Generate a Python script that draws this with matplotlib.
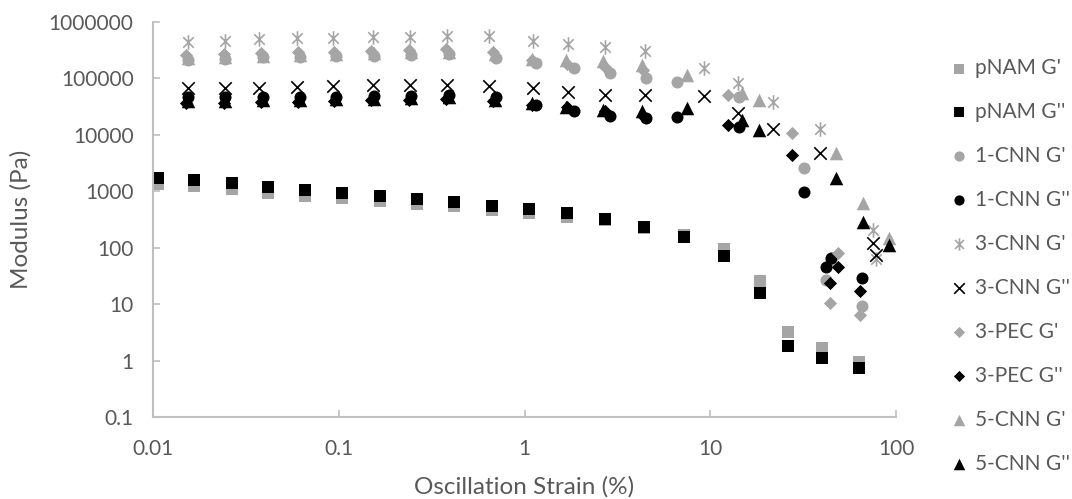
import matplotlib.pyplot as plt
from matplotlib.path import Path

# * Dados (strain %, modulus Pa)
x_pnam = [0.0106, 0.0166, 0.0266, 0.0416, 0.0658, 0.104, 0.167, 0.264, 0.417, 0.668,
          1.057, 1.69, 2.71, 4.40, 7.22, 11.9, 18.5, 26.2, 40.0, 63.2]
g1_pnam = [1360, 1250, 1110, 950, 840, 755, 668, 590, 541, 460,
           409, 348, 308, 225, 170, 94, 26, 3.2, 1.7, 0.95]
g2_pnam = [1714, 1580, 1398, 1186, 1050, 929, 822, 727, 644, 547,
           483, 411, 321, 232, 154, 71, 15.7, 1.8, 1.1, 0.73]

x_1cnn = [0.0155, 0.0245, 0.039, 0.062, 0.097, 0.155, 0.245, 0.39, 0.7, 1.15,
          1.85, 2.9, 4.5, 6.6, 14.3, 32, 42, 44.5, 65.6]
g1_1cnn = [215000, 225000, 235000, 240000, 245000, 250000, 255000, 270000, 230000, 190000,
           150000, 125000, 100000, 86000, 47000, 2580, 27, 60, 9.2]
g2_1cnn = [46000, 46000, 47000, 47000, 47000, 48000, 48000, 50000, 46000, 34000,
           27000, 22000, 20000, 20700, 13800, 969, 45, 65, 29]

x_3cnn = [0.0154, 0.0244, 0.0372, 0.0596, 0.093, 0.153, 0.242, 0.383, 0.644, 1.11,
          1.71, 2.71, 4.45, 9.25, 14.1, 21.8, 39, 75, 78]
g1_3cnn = [440000, 460000, 500000, 520000, 520000, 542000, 542000, 560000, 565000, 460000,
           407000, 360000, 306000, 153000, 82800, 38000, 12600, 204, 62]
g2_3cnn = [67600, 67600, 67600, 70000, 72000, 76000, 76000, 76000, 72000, 67000,
           57000, 51000, 51000, 49000, 24000, 12600, 4750, 120, 74]

x_3pec = [0.015, 0.024, 0.038, 0.06, 0.094, 0.15, 0.24, 0.38, 0.68, 1.1,
          1.7, 2.7, 4.35, 12.4, 27.6, 44, 48.7, 64]
g1_3pec = [260000, 270000, 280000, 290000, 300000, 310000, 320000, 330000, 290000, 210000,
           180000, 160000, 140000, 51000, 10800, 10.5, 80, 6.4]
g2_3pec = [36000, 37000, 38000, 39000, 40000, 41000, 42000, 43000, 40000, 34000,
           31000, 26000, 22000, 14900, 4350, 23.5, 45, 17]

x_5cnn = [0.0155, 0.0245, 0.039, 0.062, 0.097, 0.155, 0.245, 0.39, 0.69, 1.1,
          1.68, 2.65, 4.3, 7.5, 14.8, 18.3, 47.5, 66.4, 91.7]
g1_5cnn = [230000, 240000, 250000, 260000, 270000, 280000, 290000, 300000, 270000, 220000,
           210000, 200000, 170000, 115000, 55000, 41000, 4750, 617, 148]
g2_5cnn = [40000, 40000, 41000, 42000, 43000, 44000, 45000, 46000, 42000, 36000,
           31000, 28000, 27000, 29900, 18000, 12200, 1700, 284, 111]

x_ticks = [0.01, 0.1, 1, 10, 100]
x_ticklabels = ["0.01", "0.1", "1", "10", "100"]
y_ticks = [0.1, 1, 10, 100, 1000, 10000, 100000, 1000000]
y_ticklabels = ["0.1", "1", "10", "100", "1000", "10000", "100000", "1000000"]

cinza = "#a5a5a5"
texto = "#595959"
eixo = "#bfbfbf"

# marcador estrela do Excel (vertical + X)
estrela = Path(
    [(0, -1), (0, 1), (-0.72, -0.72), (0.72, 0.72), (-0.72, 0.72), (0.72, -0.72)],
    [Path.MOVETO, Path.LINETO, Path.MOVETO, Path.LINETO, Path.MOVETO, Path.LINETO],
)

plt.rcParams["font.family"] = ["Lato", "DejaVu Sans"]

fig = plt.figure(figsize=(10.72, 4.99), dpi=100)
ax = fig.add_axes([153 / 1072, 82 / 499, 743 / 1072, 395 / 499])

ax.scatter(x_pnam, g1_pnam, marker="s", s=80, color=cinza, linewidths=0, label="pNAM G'")
ax.scatter(x_pnam, g2_pnam, marker="s", s=80, color="black", linewidths=0, label="pNAM G''")
ax.scatter(x_1cnn, g1_1cnn, marker="o", s=75, color=cinza, linewidths=0, label="1-CNN G'")
ax.scatter(x_1cnn, g2_1cnn, marker="o", s=75, color="black", linewidths=0, label="1-CNN G''")
ax.scatter(x_3cnn, g1_3cnn, marker=estrela, s=110, color=cinza, linewidths=1.2, label="3-CNN G'")
ax.scatter(x_3cnn, g2_3cnn, marker="x", s=80, color="black", linewidths=1.2, label="3-CNN G''")
ax.scatter(x_3pec, g1_3pec, marker="D", s=45, color=cinza, linewidths=0, label="3-PEC G'")
ax.scatter(x_3pec, g2_3pec, marker="D", s=45, color="black", linewidths=0, label="3-PEC G''")
ax.scatter(x_5cnn, g1_5cnn, marker="^", s=95, color=cinza, linewidths=0, label="5-CNN G'")
ax.scatter(x_5cnn, g2_5cnn, marker="^", s=95, color="black", linewidths=0, label="5-CNN G''")

ax.set_xscale("log")
ax.set_yscale("log")
ax.set_xlim(0.01, 100)
ax.set_ylim(0.1, 1000000)
ax.set_xticks(x_ticks)
ax.set_xticklabels(x_ticklabels)
ax.set_yticks(y_ticks)
ax.set_yticklabels(y_ticklabels)
ax.minorticks_off()

for lado in ["top", "right"]:
    ax.spines[lado].set_visible(False)
for lado in ["left", "bottom"]:
    ax.spines[lado].set_color(eixo)
    ax.spines[lado].set_linewidth(1.5)

ax.tick_params(axis="both", direction="in", length=5, width=1.2, color=eixo,
               labelcolor=texto, labelsize=15)
ax.tick_params(axis="y", pad=14)
ax.tick_params(axis="x", pad=16)

ax.set_xlabel("Oscillation Strain (%)", fontsize=17.5, color=texto, labelpad=12)
ax.set_ylabel("Modulus (Pa)", fontsize=17.5, color=texto, labelpad=12)

ax.legend(
    loc="upper left",
    bbox_to_anchor=(950 / 1072, 1 - 58 / 499),
    bbox_transform=fig.transFigure,
    frameon=False,
    fontsize=15,
    labelcolor=texto,
    markerscale=0.85,
    handlelength=0.9,
    handletextpad=0.3,
    labelspacing=1.15,
    borderpad=0,
    borderaxespad=0,
)

fig.savefig("out.png", dpi=100)
